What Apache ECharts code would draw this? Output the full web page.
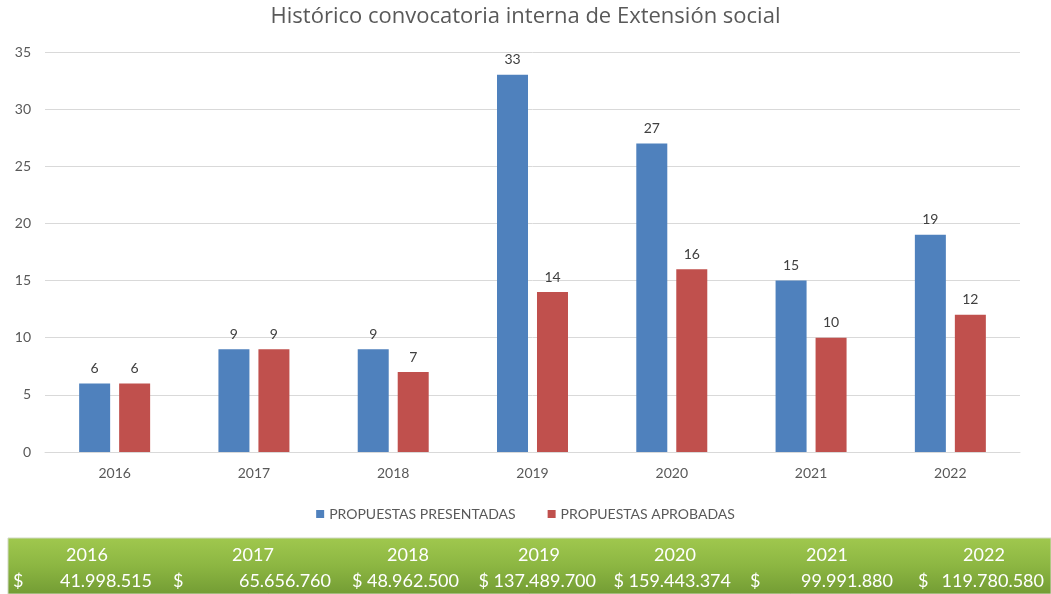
<!DOCTYPE html>
<html>
<head>
<meta charset="utf-8">
<script src="https://cdn.jsdelivr.net/npm/echarts@6/dist/echarts.min.js"></script>
<style>
html,body{margin:0;padding:0;background:#fff;}
#c{width:1051px;height:594px;}
</style>
</head>
<body>
<div id="c"></div>
<script>
const categories = ['2016','2017','2018','2019','2020','2021','2022'];
const presentadas = [6, 9, 9, 33, 27, 15, 19];
const aprobadas = [6, 9, 7, 14, 16, 10, 12];
const seriesNames = ['PROPUESTAS PRESENTADAS', 'PROPUESTAS APROBADAS'];
const amounts = [41998515, 65656760, 48962500, 137489700, 159443374, 99991880, 119780580];
const yTicks = { min: 0, max: 35, interval: 5 };

// table layout (pixel positions of the cells, not data)
const yearCenters = [87, 253, 408, 539, 675, 827, 984];
const dollarX = [13, 173, 353, 478, 614, 750, 918];
const numRight = [152, 331, 459, 596, 731, 893, 1044];
const tightDollar = [false, false, true, true, true, false, false];

function fmt(n){ return String(n).replace(/\B(?=(\d{3})+(?!\d))/g, '.'); }

const FONT = 'Lato, "Open Sans", sans-serif';
const chart = echarts.init(document.getElementById('c'));

const graphics = [{
  type: 'rect', shape: {x: 8, y: 538, width: 1043, height: 56},
  style: {
    fill: new echarts.graphic.LinearGradient(0,0,0,1,[{offset:0,color:'#a0c84e'},{offset:0.5,color:'#8cb642'},{offset:1,color:'#739c34'}]),
    stroke: '#d0d8c4', lineWidth: 1
  }, z: 1
}];
categories.forEach((c, i) => {
  graphics.push({ type: 'text', z: 2, style: { x: yearCenters[i], y: 555, text: c, fill: '#ffffff', font: '18px ' + FONT, textAlign: 'center', textVerticalAlign: 'middle' } });
  if (tightDollar[i]) {
    graphics.push({ type: 'text', z: 2, style: { x: numRight[i], y: 581, text: '$ ' + fmt(amounts[i]), fill: '#ffffff', font: '18px ' + FONT, textAlign: 'right', textVerticalAlign: 'middle' } });
  } else {
    graphics.push({ type: 'text', z: 2, style: { x: dollarX[i], y: 581, text: '$', fill: '#ffffff', font: '18px ' + FONT, textAlign: 'left', textVerticalAlign: 'middle' } });
    graphics.push({ type: 'text', z: 2, style: { x: numRight[i], y: 581, text: fmt(amounts[i]), fill: '#ffffff', font: '18px ' + FONT, textAlign: 'right', textVerticalAlign: 'middle' } });
  }
});

const labelStyle = { show: true, position: 'top', distance: 8, color: '#404040', fontSize: 14, fontFamily: FONT };

chart.setOption({
  backgroundColor: '#ffffff',
  animation: false,
  title: {
    text: 'Histórico convocatoria interna de Extensión social',
    left: 'center', top: 1,
    textStyle: { color: '#595959', fontSize: 22, fontWeight: 'normal', fontFamily: '"Open Sans", Lato, sans-serif' }
  },
  legend: {
    data: seriesNames, top: 502, left: 'center',
    itemWidth: 8, itemHeight: 8, itemGap: 32, icon: 'rect',
    textStyle: { color: '#595959', fontSize: 14, fontFamily: FONT }
  },
  grid: { left: 45, right: 31, top: 52, bottom: 142 },
  xAxis: {
    type: 'category', data: categories,
    axisLine: { lineStyle: { color: '#d9d9d9', width: 1 } },
    axisTick: { show: false },
    axisLabel: { color: '#595959', fontSize: 14, fontFamily: FONT, margin: 14 }
  },
  yAxis: {
    type: 'value', min: yTicks.min, max: yTicks.max, interval: yTicks.interval,
    axisLine: { show: false }, axisTick: { show: false },
    axisLabel: { color: '#595959', fontSize: 14, fontFamily: FONT, margin: 14 },
    splitLine: { lineStyle: { color: '#d9d9d9', width: 1 } }
  },
  series: [
    { name: seriesNames[0], type: 'bar', data: presentadas, barWidth: 31, barGap: '29%',
      itemStyle: { color: '#4f81bd' }, label: labelStyle },
    { name: seriesNames[1], type: 'bar', data: aprobadas, barWidth: 31,
      itemStyle: { color: '#c0504d' }, label: labelStyle }
  ],
  graphic: graphics
});
</script>
</body>
</html>
